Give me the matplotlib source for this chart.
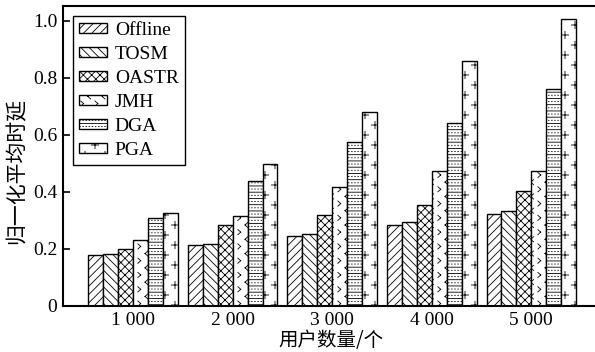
import warnings

import matplotlib
matplotlib.use("Agg")
import matplotlib.pyplot as plt
import numpy as np
from matplotlib import hatch as mhatch
from matplotlib.path import Path

warnings.filterwarnings("ignore")

# ---- data -------------------------------------------------------------
groups = ["1 000", "2 000", "3 000", "4 000", "5 000"]
methods = ["Offline", "TOSM", "OASTR", "JMH", "DGA", "PGA"]
offline = [0.179, 0.215, 0.244, 0.284, 0.322]
tosm = [0.181, 0.219, 0.251, 0.294, 0.334]
oastr = [0.199, 0.283, 0.318, 0.353, 0.405]
jmh = [0.231, 0.316, 0.419, 0.472, 0.475]
dga = [0.308, 0.437, 0.574, 0.641, 0.761]
pga = [0.325, 0.498, 0.682, 0.860, 1.006]
yticks = [0, 0.2, 0.4, 0.6, 0.8, 1.0]
ytick_labels = ["0", "0.2", "0.4", "0.6", "0.8", "1.0"]


# ---- custom hatches (chevrons, small pluses, dotted stripes) ----------
# Agg fills hatch paths as well as stroking them, so every mark is built
# from separate two-point segments.
class _MarkHatch(mhatch.HatchPatternBase):
    char = ""
    cells = 10

    def __init__(self, hatch, density):
        k = hatch.count(self.char) if hatch else 0
        verts, codes = [], []
        if k:
            n = self.cells * k
            for i in range(n):
                for j in range(n):
                    for p0, p1 in self.marks(i, j, n):
                        verts += [p0, p1]
                        codes += [Path.MOVETO, Path.LINETO]
        self.verts = np.array(verts, float).reshape(-1, 2)
        self.codes = np.array(codes, dtype=Path.code_type)
        self.num_vertices = len(verts)

    def set_vertices_and_codes(self, vertices, codes):
        vertices[:] = self.verts
        codes[:] = self.codes


class ChevronHatch(_MarkHatch):
    char = "<"
    cells = 14

    def marks(self, i, j, n):
        if (i + j) % 2:
            return []
        cx, cy = (i + 0.5) / n, (j + 0.5) / n
        w, h = 0.2 / n, 0.36 / n
        s = 1 if i % 2 == 0 else -1
        tip = (cx - s * w, cy)
        return [((cx + s * w, cy + h), tip), (tip, (cx + s * w, cy - h))]


class PlusHatch(_MarkHatch):
    char = "p"
    cells = 10

    def marks(self, i, j, n):
        if (i + j) % 2:
            return []
        cx, cy = (i + 0.5) / n, (j + 0.5) / n
        a = 0.36 / n
        return [((cx - a, cy), (cx + a, cy)), ((cx, cy - a), (cx, cy + a))]


class StripeDotHatch(_MarkHatch):
    char = "d"
    cells = 16

    def marks(self, i, j, n):
        segs = []
        if i == 0:
            y = (j + 0.25) / n
            segs.append(((0.0, y), (1.0, y)))
        yd = (j + 0.75) / n
        for q in range(2):
            x = (i + 0.25 + 0.5 * q) / n
            segs.append(((x, yd), (x + 0.1 / n, yd)))
        return segs


mhatch._hatch_types.extend([ChevronHatch, PlusHatch, StripeDotHatch])

hatches = ["////", "\\\\\\\\", "xxxx", "<", "d", "p"]

# ---- style ------------------------------------------------------------
plt.rcParams["font.family"] = ["Liberation Serif", "Noto Sans CJK SC"]
plt.rcParams["font.size"] = 14
plt.rcParams["hatch.linewidth"] = 0.6
plt.rcParams["axes.linewidth"] = 1.5

cjk = ["Noto Sans CJK SC", "DejaVu Sans"]

fig = plt.figure(figsize=(5.95, 3.52), dpi=100)
ax = fig.add_axes([63 / 595, 46 / 352, 535 / 595, 300 / 352])

series = [offline, tosm, oastr, jmh, dga, pga]
x = np.arange(len(groups))
width = 0.15
for k, (name, vals, h) in enumerate(zip(methods, series, hatches)):
    ax.bar(x + (k - 2.5) * width, vals, width, facecolor="white",
           edgecolor="black", linewidth=1.0, hatch=h, label=name)

ax.set_xlim(-0.705, 4.67)
ax.set_ylim(0, 1.0526)
ax.set_xticks(x)
ax.set_xticklabels(groups)
ax.set_yticks(yticks)
ax.set_yticklabels(ytick_labels)
ax.tick_params(axis="x", length=0, pad=4, labelsize=14)
ax.tick_params(axis="y", direction="in", length=5, width=1.2, pad=4,
               labelsize=14)
ax.spines["right"].set_visible(False)

ax.set_xlabel("用户数量/个", family=cjk, fontsize=14, labelpad=1)
ax.set_ylabel("归一化平均时延", family=cjk, fontsize=15)
ax.yaxis.set_label_coords(-0.067, 0.45)

leg = ax.legend(loc="upper left", bbox_to_anchor=(0.0187, 0.967),
                borderaxespad=0, fancybox=False, framealpha=1,
                edgecolor="black", handlelength=1.45, handleheight=0.4,
                handletextpad=0.4, labelspacing=0.36, borderpad=0.3,
                fontsize=14)
leg.get_frame().set_linewidth(1.0)

fig.savefig("out.png", dpi=100)
